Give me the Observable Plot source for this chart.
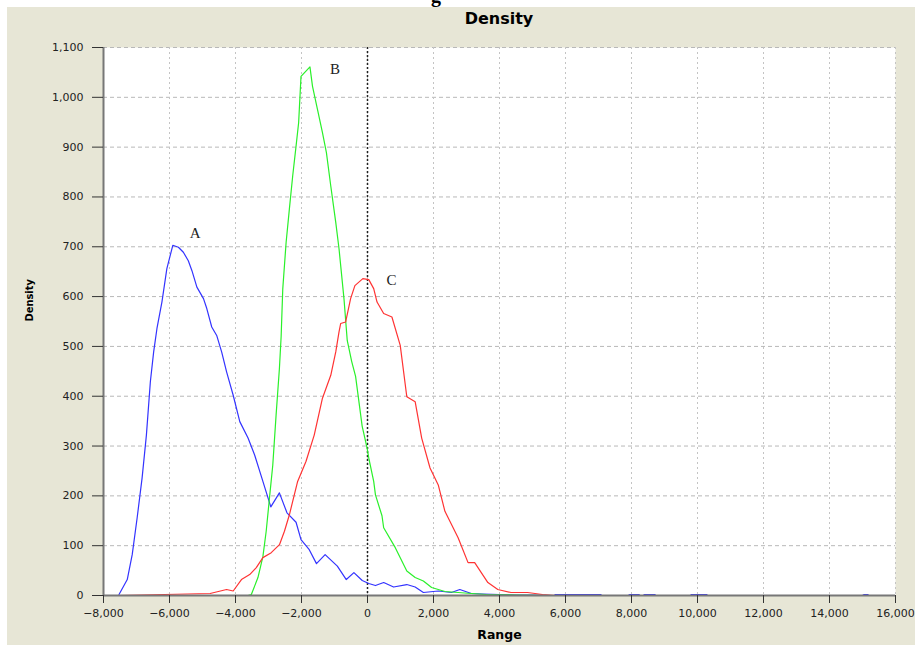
<!DOCTYPE html>
<html><head><meta charset="utf-8">
<script src="https://cdn.jsdelivr.net/npm/d3@7"></script>
<script src="https://cdn.jsdelivr.net/npm/@observablehq/plot@0.6"></script>
<style>
html,body{margin:0;padding:0;background:#fff;}
#wrap{position:relative;width:915px;height:645px;overflow:hidden;background:#fff;}
#panel{position:absolute;left:7px;top:7px;width:908px;height:638px;background:#E7E6D6;}
#cut{position:absolute;left:431px;top:-16px;font:bold 20px "Liberation Serif",serif;color:#000;}
#title{position:absolute;left:103px;width:792px;top:9px;text-align:center;font:bold 16px "DejaVu Sans",sans-serif;color:#000;}
#chart{position:absolute;left:0;top:30px;}
</style></head>
<body><div id="wrap"><div id="panel"></div><div id="cut">g</div><div id="title">Density</div><div id="chart"></div></div>
<script>
// Series A (blue)
const aX = [-7530,-7280,-7130,-6980,-6830,-6700,-6580,-6480,-6380,-6230,-6080,-5900,-5730,-5580,-5430,-5320,-5170,-4970,-4870,-4720,-4570,-4420,-4270,-4070,-3870,-3620,-3420,-3170,-2930,-2670,-2440,-2165,-2015,-1765,-1546,-1284,-914,-643,-412,-160,39,241,490,791,1191,1444,1693,2144,2544,2797,3146,3500,4000,4500,5000,5650,5700,7060,7100,7900,7950,8220,8260,8350,8400,8700,8740,9780,9820,10270,10310,15000,15050,15170];
const aY = [2,32,82,156,236,322,429,489,536,589,656,703,699,689,672,652,619,596,576,539,522,489,449,402,349,316,282,229,178,206,166,147,112,92,64,82,59,32,46,30,24,20,26,17,22,17,6,9,6,12,4,3,2,1,1,0,2,2,0,0,2,2,0,0,2,2,0,0,2,2,0,0,2,2];
// Series B (green)
const bX = [-7530,-3620,-3520,-3320,-3170,-3070,-2970,-2870,-2770,-2670,-2617,-2568,-2466,-2367,-2267,-2165,-2087,-2015,-1744,-1666,-1516,-1365,-1245,-1113,-962,-863,-713,-614,-480,-361,-162,-12,39,188,241,439,490,842,1191,1444,1693,1943,2346,2746,3146,3600,4500,5600];
const bY = [0,0,2,36,78,129,196,262,362,455,520,615,709,776,842,902,949,1042,1061,1022,976,929,889,822,749,696,596,512,470,440,340,296,276,229,202,160,136,96,49,36,29,16,8,6,4,2,1,0];
// Series C (red)
const cX = [-7530,-4770,-4270,-4070,-3820,-3570,-3470,-3370,-3170,-2917,-2668,-2517,-2367,-2267,-2117,-1865,-1615,-1365,-1113,-962,-863,-813,-662,-512,-382,-141,39,188,289,490,740,992,1191,1444,1642,1895,2144,2346,2746,3047,3248,3648,3949,4349,4851,5300,5700,15200];
const cY = [0,4,12,9,32,42,49,56,76,86,102,129,162,189,229,269,322,396,442,489,529,546,549,596,622,636,634,616,589,566,559,502,399,389,316,256,222,169,116,66,66,26,12,6,6,2,0,0];
// Curve labels (data units)
const labelText = ["A","B","C"];
const labelX = [-5224,-983,731];
const labelY = [727,1057,633];
// Axis ticks
const xTicks = [-8000,-6000,-4000,-2000,0,2000,4000,6000,8000,10000,12000,14000,16000];
const yTicks = [0,100,200,300,400,500,600,700,800,900,1000,1100];

const mk = (xs, ys, s) => xs.map((x, i) => ({x, y: ys[i], s}));
const A = mk(aX, aY, "A"), B = mk(bX, bY, "B"), C = mk(cX, cY, "C");
const labels = labelText.map((t, i) => ({t, x: labelX[i], y: labelY[i]}));
const xDom = [xTicks[0], xTicks[xTicks.length - 1]];
const yDom = [yTicks[0], yTicks[yTicks.length - 1]];

const plot = Plot.plot({
  width: 915, height: 615,
  marginLeft: 103, marginRight: 20, marginTop: 17, marginBottom: 50,
  style: {fontFamily: "DejaVu Sans, sans-serif", fontSize: "11px", background: "transparent", color: "#222"},
  x: {domain: xDom},
  y: {domain: yDom},
  marks: [
    Plot.frame({fill: "white", stroke: "none"}),
    Plot.gridY(yTicks, {stroke: "#b8b8b8", strokeOpacity: 1, strokeDasharray: "4,3"}),
    Plot.gridX(xTicks, {stroke: "#c4c4c4", strokeOpacity: 1, strokeDasharray: "2,3"}),
    Plot.ruleX([0], {stroke: "#222", strokeDasharray: "2,2", strokeWidth: 1.5}),
    Plot.line(A, {x: "x", y: "y", stroke: "#3333ff", strokeWidth: 1.2}),
    Plot.line(B, {x: "x", y: "y", stroke: "#2af02a", strokeWidth: 1.2}),
    Plot.line(C, {x: "x", y: "y", stroke: "#ff3333", strokeWidth: 1.2}),
    Plot.ruleX([xDom[0]], {stroke: "#777", strokeWidth: 2}),
    Plot.ruleY([yDom[0]], {stroke: "#777", strokeWidth: 2}),
    Plot.axisY(yTicks, {tickFormat: d3.format(","), tickSize: 11, tickPadding: 9, stroke: "#333", fill: "#222", label: null}),
    Plot.axisX(xTicks, {tickFormat: d3.format(","), tickSize: 8, tickPadding: 6, stroke: "#333", fill: "#222", label: null}),
    Plot.text(labels, {x: "x", y: "y", text: "t", fontFamily: "Liberation Serif, serif", fontSize: 15, fill: "#222"}),
    Plot.text(["Density"], {frameAnchor: "left", dx: -74, rotate: -90, fontWeight: "bold", fontSize: 11, fontFamily: "DejaVu Sans Condensed, DejaVu Sans, sans-serif", fill: "#000"}),
    Plot.text(["Range"], {frameAnchor: "bottom", dy: 39, lineAnchor: "middle", fontWeight: "bold", fontSize: 12.5, fill: "#000"})
  ]
});
document.getElementById("chart").appendChild(plot);
</script>
</body></html>
